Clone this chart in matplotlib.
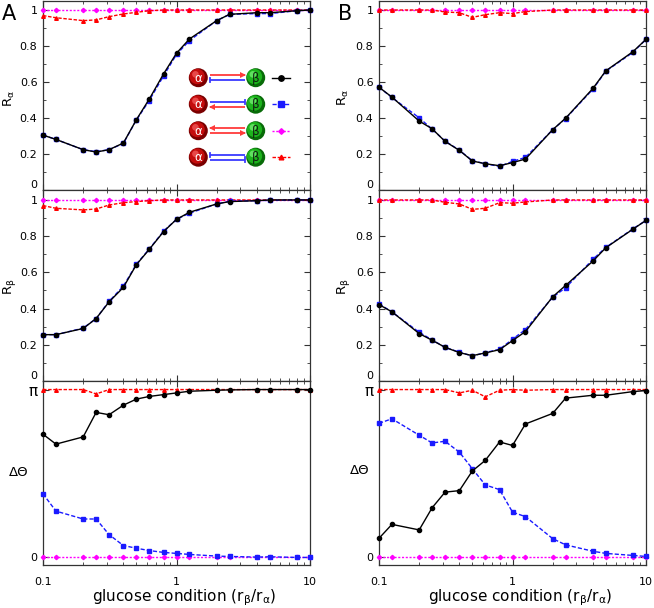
import numpy as np
import matplotlib
matplotlib.use("Agg")
import matplotlib.pyplot as plt
from matplotlib.patches import Circle
from matplotlib.ticker import FixedLocator, MultipleLocator, LogLocator, NullFormatter

plt.rcParams['font.family'] = ['DejaVu Sans']

# glucose condition r_beta / r_alpha
x = [0.1, 0.125, 0.2, 0.25, 0.3125, 0.4, 0.5, 0.625, 0.8, 1.0, 1.25, 2.0, 2.5, 4.0, 5.0, 8.0, 10.0]

# ---- panel A ----
a_ra_black = [0.305, 0.281, 0.224, 0.211, 0.224, 0.261, 0.390, 0.505, 0.645, 0.760, 0.839, 0.941, 0.976, 0.985, 0.985, 0.996, 1.000]
a_ra_blue = [0.305, 0.281, 0.224, 0.213, 0.224, 0.259, 0.388, 0.497, 0.634, 0.753, 0.830, 0.941, 0.976, 0.980, 0.980, 0.996, 1.000]
a_ra_magenta = [1.0, 1.0, 1.0, 1.0, 1.0, 1.0, 1.0, 1.0, 1.0, 1.0, 1.0, 1.0, 1.0, 1.0, 1.0, 1.0, 1.0]
a_ra_red = [0.969, 0.957, 0.941, 0.945, 0.963, 0.978, 0.987, 0.996, 1.0, 1.0, 1.0, 1.0, 1.0, 1.0, 1.0, 1.0, 1.0]

a_rb_black = [0.256, 0.256, 0.290, 0.345, 0.437, 0.517, 0.642, 0.727, 0.825, 0.893, 0.932, 0.978, 0.991, 0.996, 1.0, 1.0, 1.0]
a_rb_blue = [0.256, 0.256, 0.292, 0.345, 0.440, 0.524, 0.645, 0.729, 0.828, 0.893, 0.927, 0.978, 0.993, 0.996, 0.998, 1.0, 1.0]
a_rb_magenta = [1.0, 1.0, 1.0, 1.0, 1.0, 1.0, 1.0, 1.0, 1.0, 1.0, 1.0, 1.0, 1.0, 1.0, 1.0, 1.0, 1.0]
a_rb_red = [0.969, 0.954, 0.945, 0.950, 0.972, 0.985, 0.991, 0.996, 1.0, 1.0, 1.0, 1.0, 1.0, 1.0, 1.0, 1.0, 1.0]

# phase differences in units of pi
a_dth_black = [0.734, 0.675, 0.718, 0.864, 0.850, 0.907, 0.943, 0.959, 0.970, 0.980, 0.990, 0.996, 0.998, 1.0, 1.0, 1.0, 1.0]
a_dth_blue = [0.379, 0.276, 0.229, 0.229, 0.136, 0.071, 0.055, 0.041, 0.030, 0.024, 0.018, 0.008, 0.006, 0.002, 0.004, 0.0, 0.0]
a_dth_magenta = [0.0, 0.0, 0.0, 0.0, 0.0, 0.0, 0.0, 0.0, 0.0, 0.0, 0.0, 0.0, 0.0, 0.0, 0.0, 0.0, 0.0]
a_dth_red = [1.0, 1.0, 1.0, 0.974, 1.0, 1.0, 1.0, 1.0, 1.0, 1.0, 1.0, 1.0, 1.0, 1.0, 1.0, 1.0, 1.0]

# ---- panel B ----
b_ra_black = [0.571, 0.516, 0.383, 0.340, 0.270, 0.220, 0.161, 0.146, 0.135, 0.152, 0.172, 0.335, 0.399, 0.564, 0.662, 0.769, 0.837]
b_ra_blue = [0.571, 0.514, 0.401, 0.338, 0.272, 0.221, 0.163, 0.146, 0.131, 0.159, 0.181, 0.335, 0.397, 0.560, 0.660, 0.765, 0.837]
b_ra_magenta = [1.0, 1.0, 1.0, 1.0, 1.0, 1.0, 1.0, 1.0, 1.0, 1.0, 1.0, 1.0, 1.0, 1.0, 1.0, 1.0, 1.0]
b_ra_red = [1.0, 1.0, 1.0, 1.0, 0.989, 0.985, 0.959, 0.974, 0.985, 0.980, 0.991, 1.0, 1.0, 1.0, 1.0, 1.0, 1.0]

b_rb_black = [0.422, 0.382, 0.262, 0.225, 0.186, 0.157, 0.140, 0.155, 0.173, 0.223, 0.273, 0.465, 0.528, 0.662, 0.736, 0.839, 0.887]
b_rb_blue = [0.426, 0.382, 0.269, 0.227, 0.186, 0.159, 0.138, 0.157, 0.175, 0.231, 0.284, 0.463, 0.515, 0.672, 0.738, 0.841, 0.887]
b_rb_magenta = [1.0, 1.0, 1.0, 1.0, 1.0, 1.0, 1.0, 1.0, 1.0, 1.0, 1.0, 1.0, 1.0, 1.0, 1.0, 1.0, 1.0]
b_rb_red = [1.0, 1.0, 1.0, 1.0, 0.987, 0.978, 0.948, 0.954, 0.985, 0.982, 0.989, 1.0, 1.0, 1.0, 1.0, 1.0, 1.0]

b_dth_black = [0.114, 0.197, 0.164, 0.296, 0.389, 0.398, 0.515, 0.578, 0.688, 0.667, 0.795, 0.858, 0.949, 0.966, 0.966, 0.988, 0.994]
b_dth_blue = [0.799, 0.826, 0.728, 0.682, 0.692, 0.627, 0.529, 0.432, 0.404, 0.270, 0.243, 0.112, 0.075, 0.037, 0.024, 0.012, 0.006]
b_dth_magenta = [0.0, 0.0, 0.0, 0.0, 0.0, 0.0, 0.0, 0.0, 0.0, 0.0, 0.0, 0.0, 0.0, 0.0, 0.0, 0.0, 0.0]
b_dth_red = [1.0, 1.0, 1.0, 1.0, 1.0, 0.980, 0.996, 0.957, 0.996, 1.0, 0.996, 1.0, 1.0, 1.0, 1.0, 1.0, 1.0]

styles = {
    'black': dict(color='black', ls='-', lw=1.0, marker='o', ms=3.0),
    'blue': dict(color='#1a1aff', ls=(0, (3, 1.5)), lw=1.0, marker='s', ms=3.0),
    'magenta': dict(color='#ff00ff', ls=(0, (1.5, 1.2)), lw=1.0, marker='D', ms=2.2),
    'red': dict(color='#ff0000', ls=(0, (2.5, 1.2)), lw=1.0, marker='^', ms=2.6),
}
order = ['magenta', 'red', 'blue', 'black']

W, H = 654, 608
fig = plt.figure(figsize=(W / 100, H / 100), dpi=100)


def px_axes(x0, y0, x1, y1):
    # pixel box (top-left origin) -> figure axes
    return fig.add_axes([x0 / W, 1 - y1 / H, (x1 - x0) / W, (y1 - y0) / H])


cols = [(43, 310), (379, 646)]
rows = [(1, 190), (190, 381), (381, 565)]
panels = [
    [dict(black=a_ra_black, blue=a_ra_blue, magenta=a_ra_magenta, red=a_ra_red),
     dict(black=a_rb_black, blue=a_rb_blue, magenta=a_rb_magenta, red=a_rb_red),
     dict(black=a_dth_black, blue=a_dth_blue, magenta=a_dth_magenta, red=a_dth_red)],
    [dict(black=b_ra_black, blue=b_ra_blue, magenta=b_ra_magenta, red=b_ra_red),
     dict(black=b_rb_black, blue=b_rb_blue, magenta=b_rb_magenta, red=b_rb_red),
     dict(black=b_dth_black, blue=b_dth_blue, magenta=b_dth_magenta, red=b_dth_red)],
]

for c, (cx0, cx1) in enumerate(cols):
    for r, (ry0, ry1) in enumerate(rows):
        ax = px_axes(cx0, ry0, cx1, ry1)
        data = panels[c][r]
        scale = np.pi if r == 2 else 1.0
        for key in order:
            ax.plot(x, np.array(data[key]) * scale, clip_on=False, zorder=3, **styles[key])
        ax.set_xscale('log')
        ax.set_xlim(0.1, 10)
        ax.xaxis.set_major_locator(FixedLocator([0.1, 1, 10]))
        ax.xaxis.set_minor_locator(LogLocator(base=10, subs=np.arange(2, 10)))
        ax.xaxis.set_minor_formatter(NullFormatter())
        ax.tick_params(which='both', direction='in', top=True, right=True, labelsize=8, color='#333333')
        ax.tick_params(axis='y', pad=4)
        ax.tick_params(axis='x', pad=8.5)
        ax.tick_params(which='major', length=4)
        ax.tick_params(which='minor', length=2.5)
        if r == 2:
            ax.set_xticklabels(['0.1', '1', '10'])
            ax.set_ylim(-0.045 * np.pi, 1.051 * np.pi)
            ax.set_yticks([0, np.pi])
            ax.set_yticklabels(['0', 'π'])
            ax.get_yticklabels()[1].set_fontsize(11)
        else:
            ax.set_xticklabels([])
            ax.set_ylim(0, 1.05 if r == 0 else 1.055)
            ax.yaxis.set_major_locator(FixedLocator([0, 0.2, 0.4, 0.6, 0.8, 1.0]))
            ax.yaxis.set_minor_locator(MultipleLocator(0.1))
            ax.set_yticklabels(['0', '0.2', '0.4', '0.6', '0.8', '1'])
            ax.get_yticklabels()[0].set_va('bottom')
        for s in ax.spines.values():
            s.set_linewidth(0.9)
            s.set_color('#333333')

# axis labels and panel letters
label_pos = [[(9, 99), (9, 287), (19, 473), (184, 598)],
             [(343, 98), (343, 287), (360, 471), (520, 598)]]
for c in range(2):
    (x1, y1), (x2, y2), (x3, y3), (x4, y4) = label_pos[c]
    fig.text(x1 / W, 1 - y1 / H, 'R$_\\mathregular{α}$', rotation=90, fontsize=9.5, ha='center', va='center')
    fig.text(x2 / W, 1 - y2 / H, 'R$_\\mathregular{β}$', rotation=90, fontsize=9.5, ha='center', va='center')
    fig.text(x3 / W, 1 - y3 / H, 'ΔΘ', fontsize=9.5, ha='center', va='center')
    fig.text(x4 / W, 1 - y4 / H, 'glucose condition (r$_\\mathregular{β}$/r$_\\mathregular{α}$)',
             fontsize=11, ha='center', va='center')
fig.text(8.5 / W, 1 - 14.5 / H, 'A', fontsize=15, ha='center', va='center')
fig.text(345 / W, 1 - 14.5 / H, 'B', fontsize=15, ha='center', va='center')

# ---- legend with network cartoons ----
leg = px_axes(185, 62, 295, 172)
leg.set_xlim(185, 295)
leg.set_ylim(172, 62)
leg.axis('off')


def ball(cx, cy, rad, dark, mid, light, txt, tcol):
    leg.add_patch(Circle((cx, cy), rad, color=dark, lw=0))
    leg.add_patch(Circle((cx - 0.12 * rad, cy - 0.12 * rad), 0.8 * rad, color=mid, lw=0))
    leg.add_patch(Circle((cx - 0.3 * rad, cy - 0.35 * rad), 0.35 * rad, color=light, lw=0, alpha=0.6))
    leg.text(cx, cy + 0.5, txt, color=tcol, fontsize=8.5, ha='center', va='center')


def link(y, color, kind, toward):
    xa, xb = 209.5, 244.5
    leg.plot([xa, xb], [y, y], color=color, lw=1.3, solid_capstyle='butt')
    xe = xb if toward == 'b' else xa
    if kind == 'act':
        leg.plot([xe - 2 if toward == 'b' else xe + 2], [y], marker='>' if toward == 'b' else '<',
                 color=color, ms=4.5, mew=0)
    else:
        leg.plot([xe, xe], [y - 2.3, y + 2.3], color=color, lw=1.3)


red_l, blue_l = '#ff3a3a', '#3a3aff'
links = [
    [(red_l, 'act', 'b'), (blue_l, 'inh', 'a')],
    [(blue_l, 'inh', 'b'), (red_l, 'act', 'a')],
    [(red_l, 'act', 'a'), (red_l, 'act', 'b')],
    [(blue_l, 'inh', 'a'), (blue_l, 'inh', 'b')],
]
row_y = [77.7, 104.2, 130.7, 157.2]
for i, key in enumerate(['black', 'blue', 'magenta', 'red']):
    y = row_y[i]
    ball(198.3, y, 9.5, '#7a0000', '#c40d0d', '#ff7070', 'α', 'white')
    ball(255.7, y, 9.5, '#086b08', '#1db31d', '#8cff8c', 'β', '#102010')
    top, bot = links[i]
    link(y - 2.3, *top)
    link(y + 2.3, *bot)
    st = dict(styles[key])
    st['ms'] = st['ms'] * 1.3
    leg.plot([271.7, 280.7, 290], [y, y, y], markevery=[1], **st)

fig.savefig('out.png', dpi=100)
